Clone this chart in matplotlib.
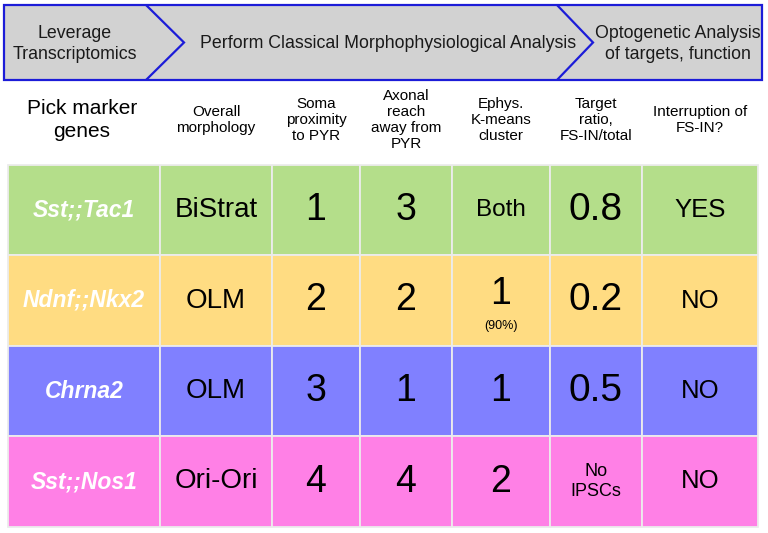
import matplotlib.pyplot as plt
from matplotlib.patches import Rectangle, Polygon

# --- data ---
stages = ["Leverage\nTranscriptomics",
          "Perform Classical Morphophysiological Analysis",
          "Optogenetic Analysis\nof targets, function"]

headers = ["Pick marker\ngenes", "Overall\nmorphology", "Soma\nproximity\nto PYR",
           "Axonal\nreach\naway from\nPYR", "Ephys.\nK-means\ncluster",
           "Target\nratio,\nFS-IN/total", "Interruption of\nFS-IN?"]

genes = ["Sst;;Tac1", "Ndnf;;Nkx2", "Chrna2", "Sst;;Nos1"]
morphology = ["BiStrat", "OLM", "OLM", "Ori-Ori"]
soma_proximity = [1, 2, 3, 4]
axonal_reach = [3, 2, 1, 4]
ephys_cluster = ["Both", "1", "1", "2"]
ephys_note = ["", "(90%)", "", ""]
target_ratio = ["0.8", "0.2", "0.5", "No\nIPSCs"]
interruption = ["YES", "NO", "NO", "NO"]

row_colors = ["#b4de8a", "#ffdc82", "#8080ff", "#ff80e6"]

# --- layout (pixels) ---
W, H = 768, 533
col_edges = [8, 160, 272, 360, 452, 550, 642, 758]
row_edges = [165, 255, 346, 436, 527]
FONT = "Liberation Sans"

fig = plt.figure(figsize=(W / 100, H / 100), dpi=100)
ax = fig.add_axes([0, 0, 1, 1])
ax.set_xlim(0, W)
ax.set_ylim(H, 0)
ax.axis("off")

# banner with chevrons
blue = "#1c1cd8"
ax.add_patch(Rectangle((4, 5), 758, 75, facecolor="#d2d2d2", edgecolor=blue, lw=1.6))
for x0, tip in [(146, 184), (557, 593)]:
    ax.add_patch(Polygon([(x0, 5), (tip, 42.5), (x0, 80)], closed=False,
                         fill=False, edgecolor=blue, lw=1.6))
stage_x = [75, 388, 678]
for sx, label in zip(stage_x, stages):
    ax.text(sx, 44, label, ha="center", va="center", fontsize=12.8,
            family=FONT, color="#1a1a1a", linespacing=1.3)

# column headers
centers = [(a + b) / 2 for a, b in zip(col_edges[:-1], col_edges[1:])]
for i, (cx, h) in enumerate(zip(centers, headers)):
    if i == 0:
        ax.text(cx - 2, 120, h, ha="center", va="center", fontsize=15,
                family=FONT, linespacing=1.25)
    else:
        ax.text(cx, 120, h, ha="center", va="center", fontsize=11,
                family=FONT, linespacing=1.2)

# table cells
for r in range(len(genes)):
    y0, y1 = row_edges[r], row_edges[r + 1]
    cy = (y0 + y1) / 2
    for c in range(len(centers)):
        ax.add_patch(Rectangle((col_edges[c], y0), col_edges[c + 1] - col_edges[c],
                               y1 - y0, facecolor=row_colors[r],
                               edgecolor="#ececec", lw=1.3))
    ax.text(centers[0], cy, genes[r], ha="center", va="center", fontsize=16.5,
            family=FONT, weight="bold", style="italic", color="white")
    ax.text(centers[1], cy, morphology[r], ha="center", va="center",
            fontsize=20, family=FONT)
    ax.text(centers[2], cy, str(soma_proximity[r]), ha="center", va="center",
            fontsize=27, family=FONT)
    ax.text(centers[3], cy, str(axonal_reach[r]), ha="center", va="center",
            fontsize=27, family=FONT)
    if ephys_cluster[r].isdigit():
        dy = -6 if ephys_note[r] else 0
        ax.text(centers[4], cy + dy, ephys_cluster[r], ha="center", va="center",
                fontsize=27, family=FONT)
        if ephys_note[r]:
            ax.text(centers[4], cy + 26, ephys_note[r], ha="center", va="center",
                    fontsize=9, family=FONT)
    else:
        ax.text(centers[4], cy, ephys_cluster[r], ha="center", va="center",
                fontsize=17.5, family=FONT)
    if "\n" in target_ratio[r]:
        ax.text(centers[5], cy, target_ratio[r], ha="center", va="center",
                fontsize=13, family=FONT, linespacing=1.2)
    else:
        ax.text(centers[5], cy, target_ratio[r], ha="center", va="center",
                fontsize=28, family=FONT)
    ax.text(centers[6], cy, interruption[r], ha="center", va="center",
            fontsize=18.5, family=FONT)

fig.savefig("out.png", dpi=100)
